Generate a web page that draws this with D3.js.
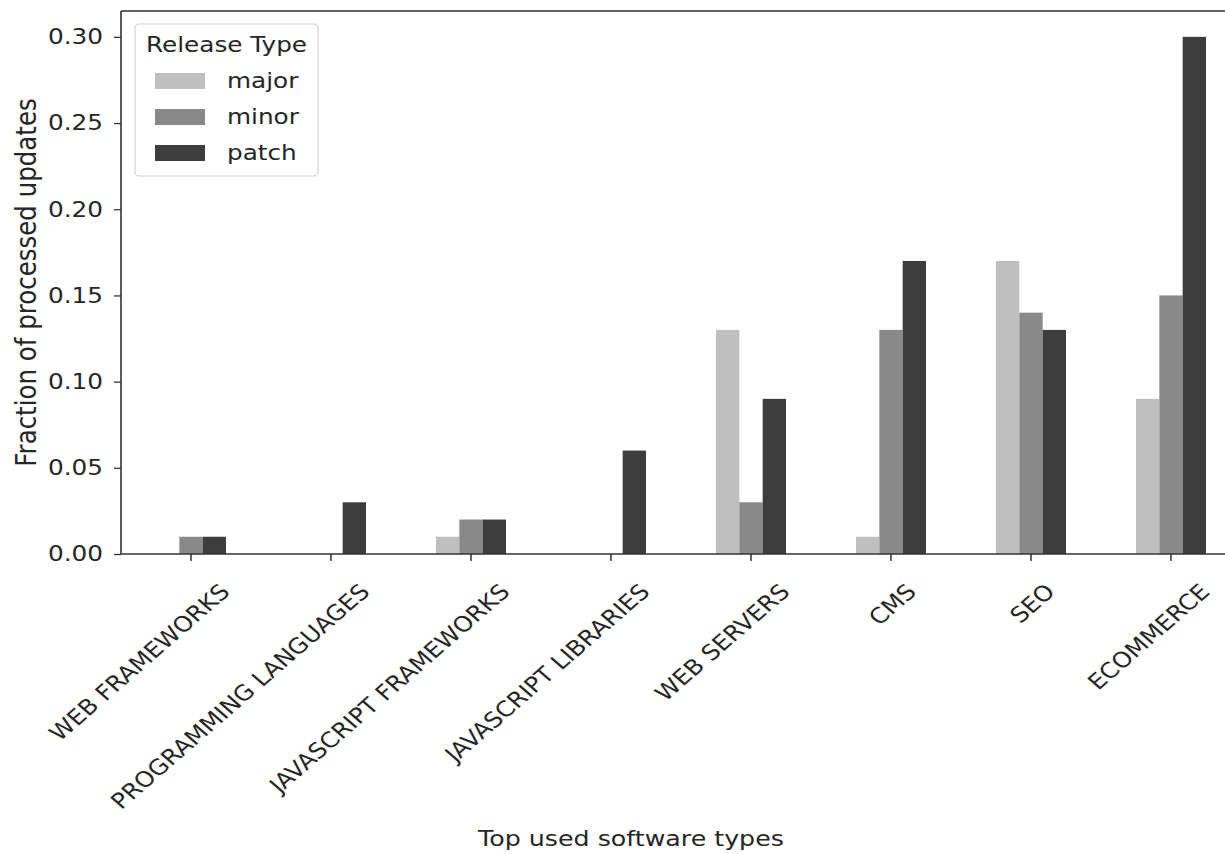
<!DOCTYPE html>
<html lang="en">
<head>
<meta charset="UTF-8">
<title>Release types by software type</title>
<script src="https://d3js.org/d3.v7.min.js"></script>
<style>
  body { margin: 0; background: #fff; }
  svg text { font-family: "DejaVu Sans", sans-serif; fill: #262626; }
</style>
</head>
<body>
<div id="grafico"></div>
<script>
// dados
const categorias = ["WEB FRAMEWORKS", "PROGRAMMING LANGUAGES", "JAVASCRIPT FRAMEWORKS",
  "JAVASCRIPT LIBRARIES", "WEB SERVERS", "CMS", "SEO", "ECOMMERCE"];
const tipos = ["major", "minor", "patch"];
const major = [0, 0, 0.01, 0, 0.13, 0.01, 0.17, 0.09];
const minor = [0.01, 0, 0.02, 0, 0.03, 0.13, 0.14, 0.15];
const patch = [0.01, 0.03, 0.02, 0.06, 0.09, 0.17, 0.13, 0.30];
const yTicks = [0, 0.05, 0.10, 0.15, 0.20, 0.25, 0.30];
const cores = ["#bfbfbf", "#898989", "#3d3d3d"];

const series = [major, minor, patch];
const width = 1225, height = 854;
// a figura original está esticada na horizontal
const sx = 1.15;
const px = v => v / sx;
const mLeft = px(121), mTop = 11, mBottom = 554, mRight = px(1241);

const svg = d3.select("#grafico").append("svg")
  .attr("width", width).attr("height", height);
const g = svg.append("g").attr("transform", `scale(${sx},1)`);

const x = d3.scaleBand().domain(categorias).range([mLeft, mRight]).padding(0);
const xInner = d3.scaleBand().domain(tipos)
  .range([x.bandwidth() * 0.25, x.bandwidth() * 0.75]).padding(0);
const y = d3.scaleLinear().domain([0, 0.315]).range([mBottom, mTop]);

// barras
tipos.forEach((t, k) => {
  g.append("g").selectAll("rect")
    .data(series[k])
    .enter().append("rect")
    .attr("x", (d, i) => x(categorias[i]) + xInner(t))
    .attr("y", d => y(d))
    .attr("width", xInner.bandwidth())
    .attr("height", d => mBottom - y(d))
    .attr("fill", cores[k]);
});

// eixo y
const yAxis = g.append("g")
  .attr("transform", `translate(${mLeft},0)`)
  .call(d3.axisLeft(y).tickValues(yTicks).tickFormat(d3.format(".2f"))
    .tickSize(px(7)).tickPadding(px(11)));
yAxis.select(".domain").remove();
yAxis.selectAll("line").attr("stroke", "#333").attr("stroke-width", 1.3);
yAxis.selectAll("text").style("font-size", "21.5px").attr("fill", "#262626");

// eixo x
const xAxis = g.append("g")
  .attr("transform", `translate(0,${mBottom})`)
  .call(d3.axisBottom(x).tickSize(7).tickFormat(""));
xAxis.select(".domain").remove();
xAxis.selectAll("line").attr("stroke", "#333").attr("stroke-width", 1.3);

// rótulos rotacionados
const fs = 21.5;
categorias.forEach(c => {
  const tick = (x(c) + x.bandwidth() / 2) * sx;
  const t = g.append("text")
    .attr("text-anchor", "end")
    .style("font-size", fs + "px")
    .text(c);
  const w = t.node().getComputedTextLength();
  const d = Math.min(40, sx * 0.707 * (w + 0.73 * fs) / 2 + 1);
  const ay = 582 + 0.707 * 0.73 * fs;
  t.attr("transform", `translate(${px(tick + d)},${ay}) rotate(-45)`);
});

// bordas
g.append("line").attr("x1", mLeft).attr("x2", mLeft).attr("y1", mTop).attr("y2", mBottom)
  .attr("stroke", "#333").attr("stroke-width", 1.4);
g.append("line").attr("x1", mLeft).attr("x2", mRight).attr("y1", mBottom).attr("y2", mBottom)
  .attr("stroke", "#333").attr("stroke-width", 1.5);
g.append("line").attr("x1", mLeft).attr("x2", mRight).attr("y1", mTop).attr("y2", mTop)
  .attr("stroke", "#333").attr("stroke-width", 1.5);

// títulos dos eixos
g.append("text")
  .attr("x", px(631)).attr("y", 846)
  .attr("text-anchor", "middle")
  .style("font-size", "22px")
  .text("Top used software types");
g.append("text")
  .attr("transform", `translate(${px(36)},${(mTop + mBottom) / 2}) rotate(-90)`)
  .attr("text-anchor", "middle")
  .style("font-size", "24.5px")
  .text("Fraction of processed updates");

// legenda
const leg = g.append("g");
leg.append("rect")
  .attr("x", px(135)).attr("y", 24).attr("width", px(183)).attr("height", 152)
  .attr("rx", 4).attr("fill", "#fff").attr("fill-opacity", 0.8)
  .attr("stroke", "#d0d0d0").attr("stroke-width", 1);
leg.append("text")
  .attr("x", px(226.5)).attr("y", 52)
  .attr("text-anchor", "middle")
  .style("font-size", "21.5px")
  .text("Release Type");
tipos.forEach((t, k) => {
  leg.append("rect")
    .attr("x", px(155)).attr("y", 73 + k * 36).attr("width", px(50)).attr("height", 16)
    .attr("fill", cores[k]);
  leg.append("text")
    .attr("x", px(227)).attr("y", 88 + k * 36)
    .style("font-size", "21.5px")
    .text(t);
});
</script>
</body>
</html>
